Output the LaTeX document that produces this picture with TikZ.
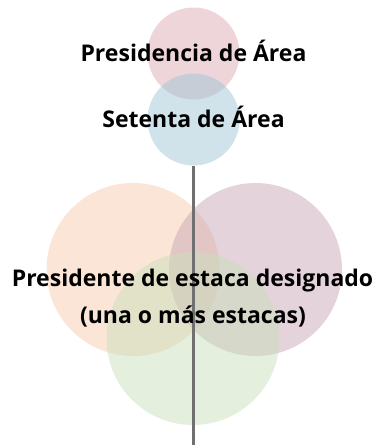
\documentclass[tikz,border=0pt]{standalone}
\usepackage{fontspec}
\setmainfont{Open Sans}
\definecolor{cpink}{RGB}{219,171,181}
\definecolor{cblue}{RGB}{161,197,213}
\definecolor{corange}{RGB}{247,203,173}
\definecolor{cpurple}{RGB}{203,167,183}
\definecolor{cgreen}{RGB}{201,223,187}
\definecolor{cline}{RGB}{112,112,112}
\begin{document}
\begin{tikzpicture}[x=1pt,y=1pt,
  bubble/.style={circle, inner sep=0pt, draw=none, fill opacity=0.5},
  small/.style={bubble, minimum size=92pt},
  big/.style={bubble, minimum size=173pt},
  lbl/.style={font=\fontsize{23}{37}\selectfont\bfseries, anchor=base, inner sep=0pt, text=black}]
\useasboundingbox (0,0) rectangle (377,-447);
\node[small, fill=cpink] (pink) at (193.5,-53.5) {};
\node[small, fill=cblue] (blue) at (193.5,-119.5) {};
\node[big, fill=corange] (orange) at (133,-269.5) {};
\node[big, fill=cpurple] (purple) at (255.5,-269.5) {};
\node[big, fill=cgreen] (green) at (193,-338.5) {};
\coordinate (lineend) at (193.5,-445);
\draw[cline, line width=2.5pt] (blue.south) -- (lineend);
\node[lbl] (t1) at (193.5,-61) {Presidencia de Área};
\node[lbl] (t2) at (193.5,-127) {Setenta de Área};
\node[lbl] (t3) at (192.5,-286) {Presidente de estaca designado};
\node[lbl] (t4) at (193,-323) {(una o más estacas)};
\end{tikzpicture}
\end{document}
